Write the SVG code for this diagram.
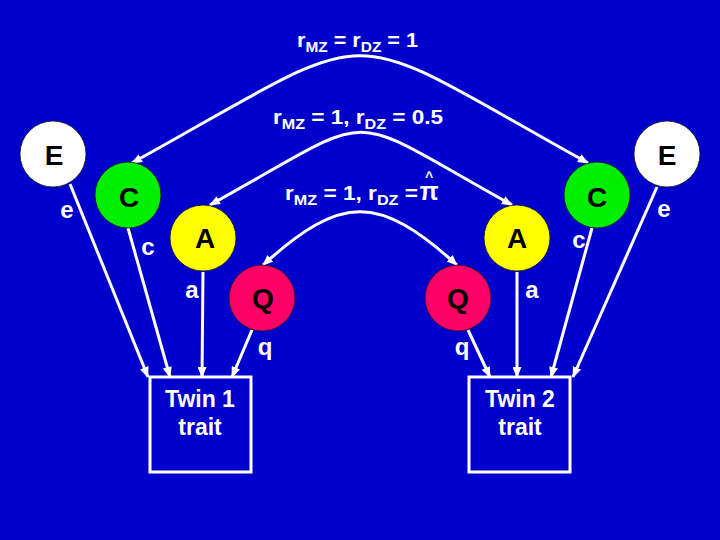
<svg xmlns="http://www.w3.org/2000/svg" width="720" height="540" viewBox="0 0 720 540">
<defs>
<marker id="ah" markerUnits="userSpaceOnUse" markerWidth="11" markerHeight="9" refX="10" refY="4.5" orient="auto-start-reverse" viewBox="0 0 11 9">
<path d="M0,0 L11,4.5 L0,9 z" fill="#ffffff"/>
</marker>
<style>
.node circle{stroke:#1a1a1a;stroke-width:0.8}
.nl{font-family:"Liberation Sans",Arial,sans-serif;font-weight:bold;font-size:28px;fill:#000;text-anchor:middle}
.lbl{font-family:"Liberation Sans",Arial,sans-serif;font-weight:bold;font-size:24px;fill:#fff;text-anchor:middle}
.cor{font-family:"Liberation Sans",Arial,sans-serif;font-weight:bold;font-size:21px;fill:#fff}
.sub{font-size:15px}
.tw{font-family:"Liberation Sans",Arial,sans-serif;font-weight:bold;font-size:23px;fill:#fff;text-anchor:middle}
.ln{fill:none;stroke:#fff;stroke-width:3}
.box{fill:none;stroke:#fff;stroke-width:3}
</style>
</defs>
<rect width="720" height="540" fill="#0000cc"/>

<g id="connectors">
<path class="ln" d="M132,163 C391,20 329,20 588,163" marker-start="url(#ah)" marker-end="url(#ah)"/>
<path class="ln" d="M210,205 C386,108 336,108 512,205" marker-start="url(#ah)" marker-end="url(#ah)"/>
<path class="ln" d="M263,265 C342,194 378,194 457,265" marker-start="url(#ah)" marker-end="url(#ah)"/>
<path class="ln" d="M70,184 L148,377" marker-end="url(#ah)"/>
<path class="ln" d="M128,228 L170,377" marker-end="url(#ah)"/>
<path class="ln" d="M203,272 L202,377" marker-end="url(#ah)"/>
<path class="ln" d="M252,330 L232,377" marker-end="url(#ah)"/>
<path class="ln" d="M657,187 L573,377" marker-end="url(#ah)"/>
<path class="ln" d="M592,228 L551,377" marker-end="url(#ah)"/>
<path class="ln" d="M517,272 L517,377" marker-end="url(#ah)"/>
<path class="ln" d="M468,330 L490,377" marker-end="url(#ah)"/>
<text class="lbl" x="67" y="218">e</text>
<text class="lbl" x="148" y="255">c</text>
<text class="lbl" x="192" y="298">a</text>
<text class="lbl" x="265" y="355">q</text>
<text class="lbl" x="664" y="217">e</text>
<text class="lbl" x="579" y="248">c</text>
<text class="lbl" x="532" y="298">a</text>
<text class="lbl" x="462" y="355">q</text>
<text class="cor" x="297" y="47" textLength="121" lengthAdjust="spacingAndGlyphs">r<tspan class="sub" dy="5">MZ</tspan><tspan dy="-5"> = r</tspan><tspan class="sub" dy="5">DZ</tspan><tspan dy="-5"> = 1</tspan></text>
<text class="cor" x="273" y="124" textLength="170" lengthAdjust="spacingAndGlyphs">r<tspan class="sub" dy="5">MZ</tspan><tspan dy="-5"> = 1, r</tspan><tspan class="sub" dy="5">DZ</tspan><tspan dy="-5"> = 0.5</tspan></text>
<text class="cor" x="285" y="200" textLength="133" lengthAdjust="spacingAndGlyphs">r<tspan class="sub" dy="5">MZ</tspan><tspan dy="-5"> = 1, r</tspan><tspan class="sub" dy="5">DZ</tspan><tspan dy="-5"> =</tspan></text>
<text class="cor" x="429" y="200" text-anchor="middle"><tspan font-size="25">π</tspan><tspan x="429" y="182" font-size="14">^</tspan></text>
</g>

<g id="E1" class="node"><circle cx="53" cy="154" r="33" fill="#ffffff"/><text class="nl" x="54" y="165">E</text></g>
<g id="C1" class="node"><circle cx="128" cy="195" r="33" fill="#00ee00"/><text class="nl" x="129" y="207">C</text></g>
<g id="A1" class="node"><circle cx="203" cy="238" r="33" fill="#ffff00"/><text class="nl" x="205" y="248">A</text></g>
<g id="Q1" class="node"><circle cx="262" cy="298" r="33" fill="#ff0066"/><text class="nl" x="263" y="308">Q</text></g>
<g id="E2" class="node"><circle cx="667" cy="154" r="33" fill="#ffffff"/><text class="nl" x="667" y="165">E</text></g>
<g id="C2" class="node"><circle cx="597" cy="195" r="33" fill="#00ee00"/><text class="nl" x="597" y="207">C</text></g>
<g id="A2" class="node"><circle cx="517" cy="238" r="33" fill="#ffff00"/><text class="nl" x="517" y="248">A</text></g>
<g id="Q2" class="node"><circle cx="458" cy="298" r="33" fill="#ff0066"/><text class="nl" x="458" y="308">Q</text></g>

<g id="Twin1"><rect class="box" x="150" y="377" width="101" height="95"/><text class="tw" x="200" y="407">Twin 1</text><text class="tw" x="200" y="435">trait</text></g>
<g id="Twin2"><rect class="box" x="469" y="377" width="101" height="95"/><text class="tw" x="520" y="407">Twin 2</text><text class="tw" x="520" y="435">trait</text></g>
</svg>
